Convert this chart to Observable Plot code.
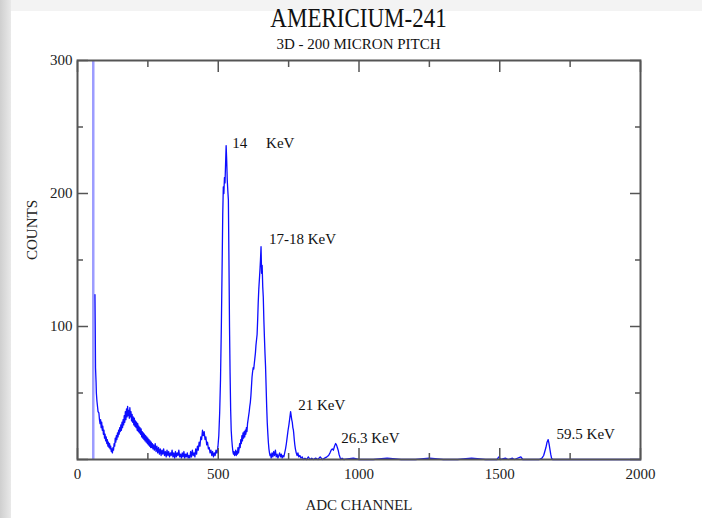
<!DOCTYPE html>
<html><head><meta charset="utf-8">
<script src="https://cdn.jsdelivr.net/npm/d3@7"></script>
<script src="https://cdn.jsdelivr.net/npm/@observablehq/plot@0.6"></script>
<style>
html,body{margin:0;padding:0;background:#fff;}
#wrap{position:relative;width:702px;height:518px;overflow:hidden;background:#fff;font-family:"Liberation Serif",serif;color:#111}
#topstrip{position:absolute;left:0;top:0;width:702px;height:11px;background:#f3f3f3}
#leftstrip{position:absolute;left:0;top:0;width:11px;height:518px;background:linear-gradient(to right,#cfcfcf,#e9e9e9)}
#title{position:absolute;left:77px;width:563px;top:4px;text-align:center;font-size:23px;line-height:1;transform:scaleY(1.2);transform-origin:50% 0;white-space:nowrap}
#subtitle{position:absolute;left:77px;width:563px;top:37px;text-align:center;font-size:15px;line-height:1;white-space:nowrap}
#chart{position:absolute;left:0;top:50px}
</style></head>
<body>
<div id="wrap">
  <div id="topstrip"></div>
  <div id="leftstrip"></div>
  <div id="title">AMERICIUM-241</div>
  <div id="subtitle">3D - 200 MICRON PITCH</div>
  <div id="chart"></div>
</div>
<script>
// ---- data: [ADC channel, counts] ----
const spikeChannel = [56]; // off-scale noise channel
const lowTail = [[62,124],[63,100],[64,69],[66,58],[67,50],[69,44],[71,40],[73,36],[76,35],[78,30],[80,27],[82,30],[84,24],[86,28],[88,22],[90,25],[92,19],[94,22],[96,16],[98,19],[100,14],[102,17],[104,12],[106,15],[108,10],[110,13],[112,9],[114,12],[116,8],[118,10],[120,6],[122,8],[124,5],[126,9],[128,7],[130,12],[132,10],[134,16],[136,13],[138,18],[140,15],[142,20],[144,17],[146,22],[148,19],[150,24],[152,21],[154,26],[156,22],[158,28],[160,24],[162,30],[164,26],[166,33],[168,28],[170,36],[172,30],[174,38],[176,32],[178,40],[180,33],[182,37],[184,31],[186,39],[188,32],[190,36],[192,29],[194,34],[196,28],[198,32],[200,26],[202,31],[204,25],[206,29],[208,24],[210,28],[212,22],[214,27],[216,21],[218,25],[220,20],[222,24],[224,19],[226,23],[228,17],[230,21],[232,16],[234,20],[236,15],[238,19],[240,14],[242,18],[244,13],[246,17],[248,12],[250,16],[252,11],[254,15],[256,10],[258,14],[260,9],[262,13],[264,9],[266,12],[268,8],[270,11],[273,7],[276,12],[279,6],[282,10],[285,5]];
const baseline = [[288,9],[291,4],[294,8],[297,3],[300,7],[303,4],[306,8],[309,3],[312,6],[315,2],[318,7],[321,3],[324,6],[327,2],[330,5],[333,3],[336,7],[339,2],[342,5],[345,1],[348,6],[351,2],[354,5],[357,3],[360,7],[363,2],[366,4],[369,1],[372,5],[375,2],[378,6],[381,1],[384,4],[387,2],[390,5],[393,1],[396,3],[399,1],[402,6],[405,2],[408,7],[411,3],[414,5],[417,2],[420,8],[423,4],[426,10],[429,7],[432,13],[435,10],[438,17],[441,15],[444,22],[447,18],[450,21],[453,15],[456,17],[459,11],[462,13],[465,8],[468,9],[471,5],[474,7],[477,3],[480,6],[483,2],[486,5],[489,3],[492,7],[494,5]];
const peak14 = [[496,5],[499,10],[502,18],[505,35],[508,60],[511,100],[514,150],[516,185],[518,205],[520,200],[522,212],[524,208],[526,222],[528,236],[530,225],[532,210],[534,202],[536,195],[538,150],[540,100],[542,65],[544,38],[546,22],[548,15],[550,10],[552,6],[554,4],[556,6],[558,3]];
const peak1718 = [[560,4],[562,7],[564,3],[566,6],[568,4],[570,9],[572,5],[574,8],[576,12],[578,9],[580,15],[582,12],[584,18],[586,14],[588,20],[590,16],[592,21],[594,17],[596,22],[598,19],[600,24],[602,21],[604,27],[606,30],[608,33],[610,36],[612,40],[614,43],[616,48],[618,55],[620,62],[622,66],[624,69],[626,68],[628,72],[630,76],[632,80],[634,86],[636,90],[638,94],[640,105],[642,118],[644,128],[646,135],[648,142],[650,150],[652,160],[654,140],[656,146],[658,130],[660,122],[662,105],[664,92],[666,80],[668,70],[670,55],[672,40],[674,28],[676,20],[678,13],[680,8],[682,5],[684,3],[686,4],[688,1],[691,5],[694,2],[697,6],[700,3],[703,7],[706,2],[709,4],[712,1],[715,3],[718,5],[721,2],[724,4],[727,1],[730,3]];
const peak21 = [[733,2],[736,5],[739,8],[742,12],[745,17],[748,22],[751,26],[754,31],[757,36],[759,33],[761,30],[763,28],[765,24],[767,22],[768,20],[770,15],[772,11],[774,8],[777,5],[780,3],[783,5],[786,2],[790,3],[794,1],[798,2],[802,0],[808,1],[814,0],[820,2],[826,0],[832,1],[838,0],[846,1],[854,0],[862,2],[870,0],[878,1],[886,2]];
const peak263 = [[892,3],[897,5],[901,7],[905,8],[909,7],[913,10],[917,12],[920,11],[923,9],[926,7],[929,4],[932,2],[935,0],[940,1],[946,0]];
const highChannels = [[980,1],[1000,0],[1050,0],[1100,1],[1150,0],[1200,0],[1250,1],[1300,0],[1350,0],[1400,1],[1450,0],[1490,0],[1497,2],[1503,0],[1520,1],[1530,0],[1545,1],[1552,0],[1575,2],[1582,0],[1640,0],[1650,1],[1656,3],[1660,6],[1664,9],[1668,13],[1672,15],[1675,12],[1678,8],[1681,4],[1684,1],[1688,0],[1750,0],[1850,0],[1950,0],[2000,0]];

const peakLabels   = ["14\u00a0\u00a0\u00a0\u00a0\u00a0KeV", "17-18 KeV", "21 KeV", "26.3 KeV", "59.5 KeV"];
const peakLabelX   = [550, 680, 784, 937, 1702];
const peakLabelY   = [238, 166, 41, 16, 19];

const xMajor = [0, 500, 1000, 1500, 2000];
const xMinor = [250, 750, 1250, 1750];
const yMajor = [0, 100, 200, 300];
const yMinor = [50, 150, 250];
const yLabels = [100, 200, 300];

// ---- build table ----
const spectrum = [...lowTail, ...baseline, ...peak14, ...peak1718, ...peak21, ...peak263, ...highChannels]
  .map(([channel, counts]) => ({channel, counts}));
const annotations = peakLabels.map((text, i) => ({text, x: peakLabelX[i], y: peakLabelY[i]}));

const tickStyle = {label: null, stroke: "#555", strokeWidth: 1.5, tickFormat: () => ""};
const ink = "#555";

const chart = Plot.plot({
  width: 702, height: 468,
  marginTop: 10, marginBottom: 59, marginLeft: 77, marginRight: 62,
  x: {domain: [0, 2000]},
  y: {domain: [0, 300]},
  style: {fontFamily: "Liberation Serif, serif", fontSize: "15px", color: "#222", background: "transparent", overflow: "visible"},
  marks: [
    Plot.ruleX(spikeChannel, {stroke: "#9c9cff", strokeWidth: 2.5}),
    Plot.line(spectrum, {x: "channel", y: "counts", stroke: "#0d0dff", strokeWidth: 1.3}),
    Plot.axisX({anchor: "bottom", ticks: xMajor, tickSize: -11, ...tickStyle}),
    Plot.axisX({anchor: "bottom", ticks: xMinor, tickSize: -6, ...tickStyle}),
    Plot.axisX({anchor: "top", ticks: xMajor, tickSize: -11, ...tickStyle}),
    Plot.axisX({anchor: "top", ticks: xMinor, tickSize: -6, ...tickStyle}),
    Plot.axisY({anchor: "left", ticks: yMajor, tickSize: -11, ...tickStyle}),
    Plot.axisY({anchor: "left", ticks: yMinor, tickSize: -6, ...tickStyle}),
    Plot.axisY({anchor: "right", ticks: yMajor, tickSize: -11, ...tickStyle}),
    Plot.axisY({anchor: "right", ticks: yMinor, tickSize: -6, ...tickStyle}),
    Plot.frame({stroke: ink, strokeWidth: 2}),
    Plot.axisX({anchor: "bottom", ticks: xMajor, tickSize: 0, tickPadding: 9, label: null, fill: "#222", tickFormat: d => String(d)}),
    Plot.axisY({anchor: "left", ticks: yLabels, tickSize: 0, tickPadding: 5, label: null, fill: "#222", tickFormat: d => String(d)}),
    Plot.text(annotations, {x: "x", y: "y", text: "text", textAnchor: "start", lineAnchor: "middle", fontSize: 15, fill: "#111"}),
    Plot.text(["ADC CHANNEL"], {frameAnchor: "bottom", dy: 46, lineAnchor: "middle", fontSize: 15, fill: "#222"}),
    Plot.text(["COUNTS"], {frameAnchor: "left", dx: -45, rotate: -90, lineAnchor: "middle", fontSize: 15, fill: "#222"})
  ]
});
document.getElementById("chart").appendChild(chart);
</script>
</body></html>
